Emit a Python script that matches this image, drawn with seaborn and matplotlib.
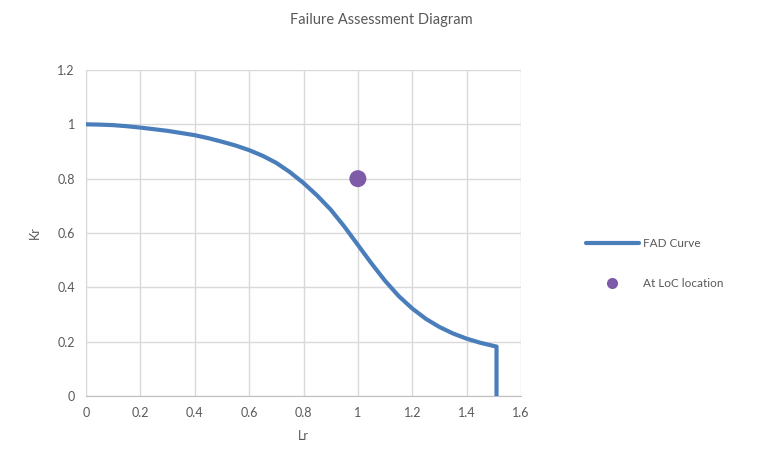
import matplotlib
matplotlib.use("Agg")
import matplotlib.pyplot as plt
import seaborn as sns
import pandas as pd
from matplotlib.lines import Line2D

# --- Data ---
lr_curve = [0.0, 0.05, 0.1, 0.15, 0.2, 0.25, 0.3, 0.35, 0.4, 0.45, 0.5, 0.55,
            0.6, 0.65, 0.7, 0.75, 0.8, 0.85, 0.9, 0.95, 1.0, 1.05, 1.1, 1.15,
            1.2, 1.25, 1.3, 1.35, 1.4, 1.45, 1.5, 1.51, 1.51]
kr_curve = [1.0, 0.999, 0.997, 0.993, 0.988, 0.982, 0.976, 0.968, 0.96, 0.949,
            0.936, 0.922, 0.905, 0.884, 0.858, 0.824, 0.784, 0.738, 0.686,
            0.624, 0.556, 0.488, 0.424, 0.368, 0.322, 0.284, 0.254, 0.23,
            0.211, 0.196, 0.184, 0.182, 0.0]
loc_lr = [1.0]
loc_kr = [0.8]

x_ticks = [0, 0.2, 0.4, 0.6, 0.8, 1.0, 1.2, 1.4, 1.6]
x_labels = ["0", "0.2", "0.4", "0.6", "0.8", "1", "1.2", "1.4", "1.6"]
y_ticks = [0, 0.2, 0.4, 0.6, 0.8, 1.0, 1.2]
y_labels = ["0", "0.2", "0.4", "0.6", "0.8", "1", "1.2"]

LINE_COLOR = "#4A7EBB"
DOT_COLOR = "#7E5BA8"
TEXT_COLOR = "#595959"
GRID_COLOR = "#D9D9D9"

sns.set_style("white")
plt.rcParams["font.family"] = ["Lato", "DejaVu Sans"]

curve_df = pd.DataFrame({"Lr": lr_curve, "Kr": kr_curve})
loc_df = pd.DataFrame({"Lr": loc_lr, "Kr": loc_kr})

fig = plt.figure(figsize=(7.62, 4.51), dpi=100)
ax = fig.add_axes([0.1129, 0.122, 0.5708, 0.7228])

sns.lineplot(data=curve_df, x="Lr", y="Kr", sort=False, estimator=None,
             color=LINE_COLOR, linewidth=3.0, ax=ax, zorder=3)
sns.scatterplot(data=loc_df, x="Lr", y="Kr", color=DOT_COLOR, s=150,
                edgecolor="none", ax=ax, zorder=4)

ax.set_xlim(0, 1.6)
ax.set_ylim(0, 1.2)
ax.set_xticks(x_ticks)
ax.set_xticklabels(x_labels)
ax.set_yticks(y_ticks)
ax.set_yticklabels(y_labels)
ax.grid(True, color=GRID_COLOR, linewidth=1.0)
ax.set_axisbelow(True)
ax.tick_params(axis="both", length=0, labelsize=9, labelcolor=TEXT_COLOR, pad=8)

for side in ["top", "right"]:
    ax.spines[side].set_visible(False)
ax.spines["bottom"].set_color("#BFBFBF")
ax.spines["left"].set_color(GRID_COLOR)

ax.set_xlabel("Lr", fontsize=9, color=TEXT_COLOR, labelpad=8)
ax.set_ylabel("Kr", fontsize=9, color=TEXT_COLOR, labelpad=12)
fig.text(0.5, 0.955, "Failure Assessment Diagram", ha="center", va="center",
         fontsize=10.5, color=TEXT_COLOR)

handles = [
    Line2D([0], [0], color=LINE_COLOR, linewidth=3.0),
    Line2D([0], [0], marker="o", color="none", markerfacecolor=DOT_COLOR,
           markeredgecolor="none", markersize=8),
]
fig.legend(handles, ["FAD Curve", "At LoC location"],
           loc="upper left", bbox_to_anchor=(0.755, 0.495), frameon=False,
           fontsize=8.5, labelcolor=TEXT_COLOR, handlelength=4.5,
           handletextpad=0.3, labelspacing=2.45)

fig.savefig("out.png", dpi=100, facecolor="white")
